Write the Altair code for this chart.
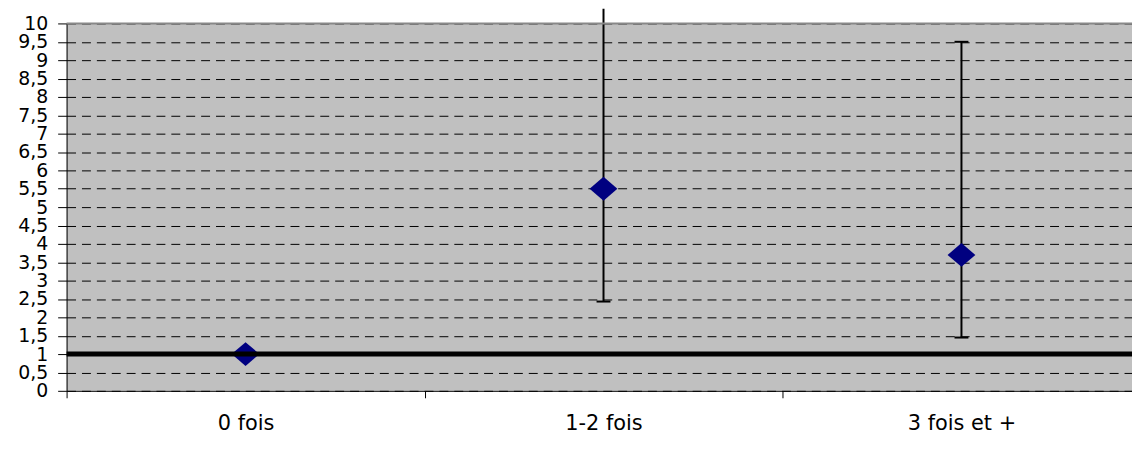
import json
import altair as alt
import pandas as pd

categories = ["0 fois", "1-2 fois", "3 fois et +"]
odds_ratio = [1.0, 5.5, 3.7]
ci_lower = [None, 2.43, 1.45]
ci_upper = [None, 10.4, 9.5]
ref_value = [1.0]
y_ticks = [0, 0.5, 1, 1.5, 2, 2.5, 3, 3.5, 4, 4.5, 5, 5.5, 6, 6.5, 7, 7.5, 8, 8.5, 9, 9.5, 10]
x_ticks = [0, 0.5, 1, 1.5, 2, 2.5]

df = pd.DataFrame({"cat": categories, "or": odds_ratio, "lo": ci_lower, "hi": ci_upper})
ref = pd.DataFrame({"v": ref_value})

FONT = "DejaVu Sans"
CATS = json.dumps(categories)

PLOT_W = 1073
BAND = 360.5

x_scale = alt.Scale(domain=[0, PLOT_W / BAND], nice=False, zero=False)
x_axis = alt.Axis(
    title=None, values=x_ticks, labelAngle=0,
    labelExpr=f"datum.value % 1 === 0 ? '' : {CATS}[floor(datum.value)]",
    tickOpacity={"condition": {"test": "datum.value % 1 === 0", "value": 1}, "value": 0},
    tickSize=7, tickColor="black", domainColor="black", labelFont=FONT,
    labelFontSize=21, labelColor="black", labelPadding=15, grid=False,
    labelOverlap=False, labelFlush=False,
)
x_enc = alt.X("pos:Q", scale=x_scale, axis=x_axis)

y_scale = alt.Scale(domain=[0, 10], nice=False, zero=True)
y_axis = alt.Axis(
    title=None, values=y_ticks, labelExpr="replace(toString(datum.value), '.', ',')",
    tickSize=9, tickColor="black", domainColor="black", labelFont=FONT,
    labelFontSize=19, labelColor="black", labelPadding=10, labelOverlap=False,
    grid=True, gridColor="black", gridDash=[9, 6], gridOpacity=1, gridWidth=1,
)


def Y(field):
    return alt.Y(field, scale=y_scale, axis=y_axis)


base = alt.Chart(df).transform_calculate(pos=f"indexof({CATS}, datum.cat) + 0.5")

err = base.transform_filter("isValid(datum.lo)").mark_rule(color="black", strokeWidth=2).encode(
    x=x_enc, y=Y("lo:Q"), y2="hi:Q"
)
cap_lo = base.transform_filter("isValid(datum.lo)").mark_tick(
    color="black", size=14, thickness=2, opacity=1, orient="horizontal"
).encode(x=x_enc, y=Y("lo:Q"))
cap_hi = base.transform_filter("isValid(datum.hi) && datum.hi <= 10").mark_tick(
    color="black", size=14, thickness=2, opacity=1, orient="horizontal"
).encode(x=x_enc, y=Y("hi:Q"))

pts = base.mark_point(
    shape="M-1,0L0,-0.86L1,0L0,0.86Z", filled=True, size=784, color="#000080", opacity=1
).encode(x=x_enc, y=Y("or:Q"))

ref_line = alt.Chart(ref).mark_rule(color="black", strokeWidth=5).encode(y=Y("v:Q"))
top_border = alt.Chart(ref).mark_rule(color="#888888", strokeWidth=2).encode(y=alt.value(0))

chart = (
    alt.layer(err, cap_lo, cap_hi, pts, ref_line, top_border)
    .properties(
        width=PLOT_W, height=370, autosize="none",
        padding={"left": 59, "top": 14, "right": 0, "bottom": 50},
        background="white",
    )
    .configure_view(stroke=None, fill="#C0C0C0")
)

chart.save("out.html", embed_options={"renderer": "svg", "actions": False})
